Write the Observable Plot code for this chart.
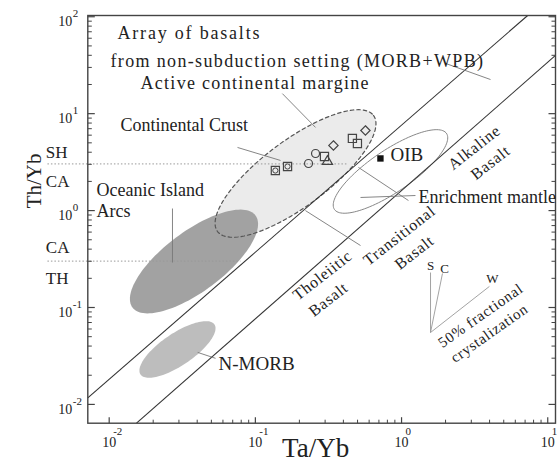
<!DOCTYPE html>
<html><head><meta charset="utf-8">
<script src="https://cdn.jsdelivr.net/npm/d3@7"></script>
<script src="https://cdn.jsdelivr.net/npm/@observablehq/plot@0.6"></script>
<style>body{margin:0;background:#fff}</style>
</head><body><div id="chart"></div>
<script>
// ---- axis limits & ticks ----
const xDomain = [0.00714, 11.3];
const yDomain = [0.0064, 103];
const xMajor = [0.01, 0.1, 1, 10];
const xExp = ["-2", "-1", "0", "1"];
const xMinor = [0.02,0.03,0.04,0.05,0.06,0.07,0.08,0.09,0.2,0.3,0.4,0.5,0.6,0.7,0.8,0.9,2,3,4,5,6,7,8,9];
const yMajor = [0.01, 0.1, 1, 10, 100];
const yExp = ["-2", "-1", "0", "1", "2"];
const yMinor = [0.02,0.03,0.04,0.05,0.06,0.07,0.08,0.09,0.2,0.3,0.4,0.5,0.6,0.7,0.8,0.9,2,3,4,5,6,7,8,9,20,30,40,50,60,70,80,90];

// ---- fields (ellipses: major-axis ends in Ta/Yb, Th/Yb; width ratio) ----
const activeMargin = {x1: 0.0551, y1: 0.608, x2: 0.643, y2: 9.58, ratio: 0.34};
const oceanicArcs  = {x1: 0.01443, y1: 0.100, x2: 0.1002, y2: 0.890, ratio: 0.39};
const nMorb        = {x1: 0.01637, y1: 0.0204, x2: 0.0525, y2: 0.0668, ratio: 0.36};
const oibField     = {x1: 0.3475, y1: 1.027, x2: 2.03, y2: 6.25, ratio: 0.31};

// ---- boundary lines ----
const arrayLines = [
  {x1: 0.00714, y1: 0.01169, x2: 7.29, y2: 103},
  {x1: 0.01538, y1: 0.0064, x2: 11.3, y2: 39.9}
];
const fieldBounds = [
  {x1: 0.507, y1: 2.79, x2: 1.115, y2: 1.27},
  {x1: 0.220, y1: 1.00, x2: 0.524, y2: 0.436}
];
const pointers = [
  {x1: 0.153, y1: 16.1, x2: 0.258, y2: 7.21},
  {x1: 0.0755, y1: 4.48, x2: 0.1486, y2: 3.29},
  {x1: 0.0271, y1: 1.05, x2: 0.0271, y2: 0.291},
  {x1: 2.0, y1: 33.0, x2: 4.06, y2: 22.5},
  {x1: 0.524, y1: 1.365, x2: 1.245, y2: 1.43},
  {x1: 0.0403, y1: 0.0344, x2: 0.0534, y2: 0.0299}
];
const fcOrigin = {x: 1.578, y: 0.0552};
const fcEnds = [{x: 1.578, y: 0.2296}, {x: 1.905, y: 0.2245}, {x: 3.99, y: 0.165}];
const dotted = [{y: 3.03, x1: 0.00378, x2: 0.4266}, {y: 0.301, x1: 0.00378, x2: 0.079}];

// ---- samples ----
const squares = [{x: 0.137, y: 2.59}, {x: 0.166, y: 2.85}, {x: 0.297, y: 3.61}, {x: 0.461, y: 5.55}, {x: 0.499, y: 4.92}];
const squaresInner = [{x: 0.137, y: 2.59}, {x: 0.166, y: 2.85}];
const circles = [{x: 0.231, y: 3.06}, {x: 0.258, y: 3.88}];
const triangles = [{x: 0.311, y: 3.21}];
const diamonds = [{x: 0.342, y: 4.70}, {x: 0.566, y: 6.71}];
const oibPoint = [{x: 0.717, y: 3.45}];

// ---- labels ----
const wideLabels = [
  {text: "Array of basalts", x: 0.0114, y: 67.3},
  {text: "from non-subduction setting (MORB+WPB)", x: 0.0102, y: 34.6},
  {text: "Active continental margine", x: 0.01637, y: 20.5}
];
const plainLabels = [
  {text: "Continental Crust", x: 0.01195, y: 7.64},
  {text: "Oceanic Island", x: 0.00819, y: 1.61},
  {text: "Arcs", x: 0.00819, y: 0.979},
  {text: "Enrichment mantle", x: 1.305, y: 1.38}
];
const bigLabels = [
  {text: "OIB", x: 0.84, y: 3.71},
  {text: "N-MORB", x: 0.056, y: 0.0264}
];
const basaltLabels = [
  {text: "Alkaline", x: 3.15, y: 4.48},
  {text: "Basalt", x: 4.06, y: 3.13},
  {text: "Transitional", x: 0.967, y: 0.553},
  {text: "Basalt", x: 1.225, y: 0.370},
  {text: "Tholeiitic", x: 0.288, y: 0.214},
  {text: "Basalt", x: 0.316, y: 0.121}
];
const fcLabels = [
  {text: "50% fractional", x: 3.47, y: 0.0826},
  {text: "crystalization", x: 3.99, y: 0.054}
];
const scwLabels = [
  {text: "S", x: 1.578, y: 0.271},
  {text: "C", x: 1.966, y: 0.253},
  {text: "W", x: 4.19, y: 0.199}
];
const seriesLabels = [
  {text: "SH", y: 3.98}, {text: "CA", y: 2.0}, {text: "CA", y: 0.416}, {text: "TH", y: 0.199}
];

// ---- layout ----
const W = 559, H = 473, mL = 87.3, mR = 4, mT = 15, mB = 50.3;
const kx = (W - mL - mR) / (Math.log10(xDomain[1]) - Math.log10(xDomain[0]));
const ky = (H - mT - mB) / (Math.log10(yDomain[1]) - Math.log10(yDomain[0]));
function ellipse(e, n = 120) {
  const X1 = Math.log10(e.x1) * kx, Y1 = -Math.log10(e.y1) * ky;
  const X2 = Math.log10(e.x2) * kx, Y2 = -Math.log10(e.y2) * ky;
  const cx = (X1 + X2) / 2, cy = (Y1 + Y2) / 2;
  const hx = (X2 - X1) / 2, hy = (Y2 - Y1) / 2, a = Math.hypot(hx, hy);
  const ux = hx / a, uy = hy / a, vx = -uy, vy = ux, b = a * e.ratio;
  return d3.range(n).map(i => {
    const t = 2 * Math.PI * i / n;
    const X = cx + a * Math.cos(t) * ux + b * Math.sin(t) * vx;
    const Y = cy + a * Math.cos(t) * uy + b * Math.sin(t) * vy;
    return {x: Math.pow(10, X / kx), y: Math.pow(10, -Y / ky)};
  });
}
const tick = (dx, dy) => ({draw(ctx) { ctx.moveTo(0, 0); ctx.lineTo(dx, dy); }});
const serif = "'Liberation Serif', 'Times New Roman', serif";
const ink = "#222";

const chart = Plot.plot({
  width: W, height: H,
  marginLeft: mL, marginRight: mR, marginTop: mT, marginBottom: mB,
  x: {type: "log", domain: xDomain, axis: null},
  y: {type: "log", domain: yDomain, axis: null},
  style: {fontFamily: serif, background: "white", color: ink},
  marks: [
    Plot.line(ellipse(activeMargin), {x: "x", y: "y", curve: "linear-closed", fill: "#ebebeb", stroke: "none"}),
    Plot.line(ellipse(oceanicArcs), {x: "x", y: "y", curve: "linear-closed", fill: "#a2a2a2", stroke: "none"}),
    Plot.line(ellipse(nMorb), {x: "x", y: "y", curve: "linear-closed", fill: "#bdbdbd", stroke: "none"}),
    Plot.line(ellipse(activeMargin), {x: "x", y: "y", curve: "linear-closed", fill: "none", stroke: "#555", strokeWidth: 1.2, strokeDasharray: "3.5,3"}),
    Plot.line(ellipse(oibField), {x: "x", y: "y", curve: "linear-closed", fill: "none", stroke: "#888", strokeWidth: 1}),
    Plot.link(dotted, {x1: "x1", x2: "x2", y1: "y", y2: "y", stroke: "#999", strokeWidth: 1, strokeDasharray: "1.5,2"}),
    Plot.link(arrayLines, {x1: "x1", y1: "y1", x2: "x2", y2: "y2", stroke: "#333", strokeWidth: 1.1}),
    Plot.link(fieldBounds, {x1: "x1", y1: "y1", x2: "x2", y2: "y2", stroke: "#777", strokeWidth: 0.9}),
    Plot.link(pointers, {x1: "x1", y1: "y1", x2: "x2", y2: "y2", stroke: "#777", strokeWidth: 0.9}),
    Plot.link(fcEnds, {x1: () => fcOrigin.x, y1: () => fcOrigin.y, x2: "x", y2: "y", stroke: "#999", strokeWidth: 0.9}),
    Plot.dot(squares, {x: "x", y: "y", symbol: "square", r: 4.6, stroke: "#444", fill: "none", strokeWidth: 1.2}),
    Plot.dot(squaresInner, {x: "x", y: "y", symbol: "circle", r: 2.6, stroke: "#444", fill: "none", strokeWidth: 1}),
    Plot.dot(circles, {x: "x", y: "y", symbol: "circle", r: 4, stroke: "#444", fill: "none", strokeWidth: 1.2}),
    Plot.dot(triangles, {x: "x", y: "y", symbol: "triangle", r: 3.8, stroke: "#444", fill: "none", strokeWidth: 1.2}),
    Plot.dot(diamonds, {x: "x", y: "y", symbol: "diamond2", r: 4.2, stroke: "#444", fill: "none", strokeWidth: 1.2}),
    Plot.dot(oibPoint, {x: "x", y: "y", symbol: "square", r: 3.6, fill: "#111", stroke: "none"}),
    Plot.frame({stroke: "#444", strokeWidth: 1.4}),
    // ticks (inward)
    Plot.dot(xMajor, {x: d => d, frameAnchor: "bottom", symbol: tick(0, -6), stroke: "#444", fill: "none", strokeWidth: 1.2}),
    Plot.dot(xMinor, {x: d => d, frameAnchor: "bottom", symbol: tick(0, -3.5), stroke: "#444", fill: "none", strokeWidth: 1}),
    Plot.dot(yMajor, {y: d => d, frameAnchor: "left", symbol: tick(7, 0), stroke: "#444", fill: "none", strokeWidth: 1.2}),
    Plot.dot(yMinor, {y: d => d, frameAnchor: "left", symbol: tick(4, 0), stroke: "#444", fill: "none", strokeWidth: 1}),
    Plot.dot(yMajor, {y: d => d, frameAnchor: "right", symbol: tick(-7, 0), stroke: "#444", fill: "none", strokeWidth: 1.2}),
    Plot.dot(yMinor, {y: d => d, frameAnchor: "right", symbol: tick(-4, 0), stroke: "#444", fill: "none", strokeWidth: 1}),
    // tick labels
    Plot.text(xMajor, {x: d => d, frameAnchor: "bottom", text: () => "10", dy: 24, fontSize: 14, fill: ink}),
    Plot.text(xMajor, {x: d => d, frameAnchor: "bottom", text: (d, i) => xExp[i], dx: 4, dy: 12, textAnchor: "start", fontSize: 11, fill: ink}),
    Plot.text(yMajor, {y: d => d, frameAnchor: "left", text: () => "10", dx: -15.5, dy: 5, textAnchor: "end", fontSize: 14, fill: ink}),
    Plot.text(yMajor, {y: d => d, frameAnchor: "left", text: (d, i) => yExp[i], dx: -15, dy: -3, textAnchor: "start", fontSize: 11, fill: ink}),
    // axis titles
    Plot.text(["Ta/Yb"], {frameAnchor: "bottom", text: d => d, dx: -6, dy: 34, fontSize: 27, fill: ink}),
    Plot.text(["Th/Yb"], {frameAnchor: "left", text: d => d, dx: -54, dy: -11, rotate: -90, fontSize: 21, fill: ink}),
    // series labels
    Plot.text(seriesLabels, {y: "y", text: "text", frameAnchor: "left", dx: -42, textAnchor: "start", fontSize: 17, fill: ink}),
    // annotations
    Plot.text(wideLabels, {x: "x", y: "y", text: "text", textAnchor: "start", fontSize: 18, fill: ink}),
    Plot.text(plainLabels, {x: "x", y: "y", text: "text", textAnchor: "start", fontSize: 18, fill: ink}),
    Plot.text(bigLabels, {x: "x", y: "y", text: "text", textAnchor: "start", fontSize: 19, fill: ink}),
    Plot.text(basaltLabels, {x: "x", y: "y", text: "text", rotate: -38, fontSize: 16, fill: ink}),
    Plot.text(fcLabels, {x: "x", y: "y", text: "text", rotate: -35, fontSize: 15, fill: ink}),
    Plot.text(scwLabels, {x: "x", y: "y", text: "text", fontSize: 13, fill: ink})
  ]
});
// letter spacing of the spaced-out annotation labels
const spacing = new Map([
  ["Array of basalts", 1.8],
  ["from non-subduction setting (MORB+WPB)", 1.35],
  ["Active continental margine", 1.3],
  ["Alkaline", 0.8], ["Basalt", 0.8], ["Transitional", 0.8], ["Tholeiitic", 0.8],
  ["50% fractional", 0.8], ["crystalization", 0.7]
]);
d3.select(chart).selectAll("text").each(function() {
  const s = spacing.get(this.textContent);
  if (s != null) this.setAttribute("letter-spacing", s);
});
document.getElementById("chart").appendChild(chart);
</script>
</body></html>
